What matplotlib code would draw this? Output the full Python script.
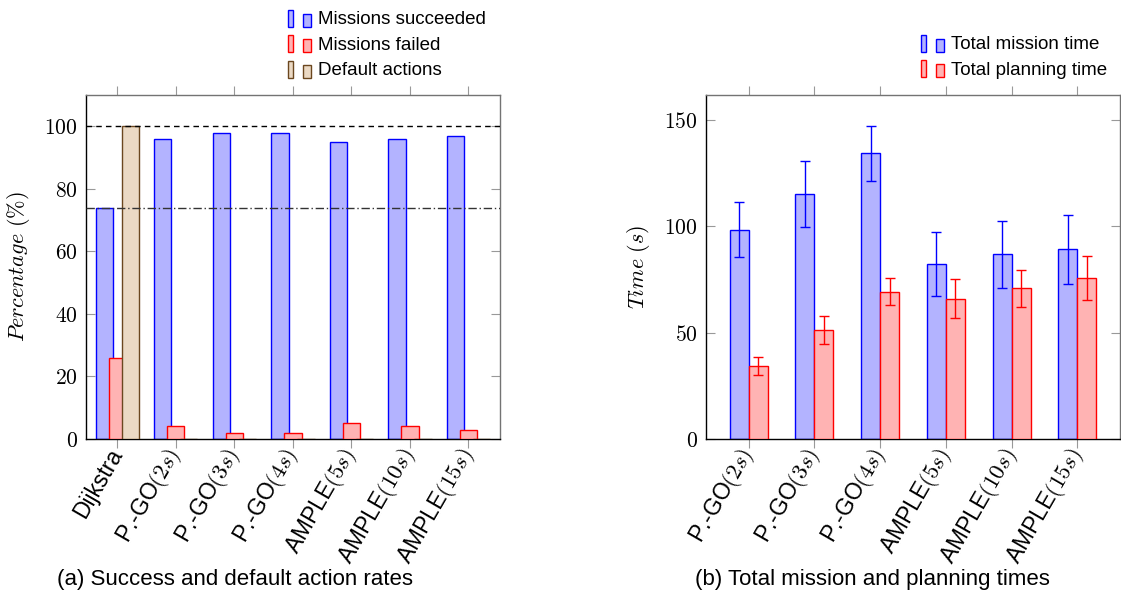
import matplotlib
matplotlib.use("Agg")
import matplotlib.pyplot as plt
import numpy as np
from matplotlib.legend_handler import HandlerBase
from matplotlib.patches import Rectangle
from matplotlib.container import BarContainer

plt.rcParams['font.family'] = ['Liberation Sans', 'DejaVu Sans']
plt.rcParams['mathtext.fontset'] = 'cm'

# (a) success / default action rates
methods_a = ['Dijkstra', 'P.-GO$(2s)$', 'P.-GO$(3s)$', 'P.-GO$(4s)$',
             'AMPLE$(5s)$', 'AMPLE$(10s)$', 'AMPLE$(15s)$']
succeeded = [74, 96, 98, 98, 95, 96, 97]
failed = [26, 4, 2, 2, 5, 4, 3]
default_actions = [100, 0, 0, 0, 0, 0, 0]

# (b) mission / planning times
methods_b = ['P.-GO$(2s)$', 'P.-GO$(3s)$', 'P.-GO$(4s)$',
             'AMPLE$(5s)$', 'AMPLE$(10s)$', 'AMPLE$(15s)$']
mission_time = [98.4, 115.2, 134.3, 82.1, 86.8, 89.2]
mission_err = [13.0, 15.6, 12.8, 15.0, 15.6, 16.2]
planning_time = [34.3, 51.2, 69.3, 66.0, 70.8, 75.8]
planning_err = [4.4, 6.6, 6.4, 9.0, 8.6, 10.4]

BLUE_FILL = (0.7, 0.7, 1.0)
RED_FILL = (1.0, 0.7, 0.7)
TAN_FILL = (0.92, 0.85, 0.77)
TAN_EDGE = (0.42, 0.28, 0.12)
TICK_GRAY = (0.6, 0.6, 0.6)


class TwoBarHandler(HandlerBase):
    # pgfplots-style ybar legend icon: two small bars
    def create_artists(self, legend, orig_handle, xdescent, ydescent,
                       width, height, fontsize, trans):
        p = orig_handle.patches[0]
        fc = p.get_facecolor()
        ec = p.get_edgecolor()
        h1 = height * 1.3
        h2 = height * 1.0
        y0 = -ydescent - height * 0.2
        r1 = Rectangle((-xdescent, y0), width * 0.22, h1, facecolor=fc,
                       edgecolor=ec, lw=1.0, transform=trans)
        r2 = Rectangle((-xdescent + width * 0.62, y0), width * 0.32, h2,
                       facecolor=fc, edgecolor=ec, lw=1.0, transform=trans)
        return [r1, r2]


def style_axes(ax):
    for s in ['top', 'right']:
        ax.spines[s].set_color((0.45, 0.45, 0.45))
    for s in ['left', 'bottom']:
        ax.spines[s].set_color('black')
    for s in ax.spines.values():
        s.set_linewidth(1.0)
    ax.tick_params(axis='y', direction='in', length=6.5, color=TICK_GRAY,
                   right=True, labelsize=15.5, pad=6)
    ax.tick_params(axis='x', direction='out', length=6.5, color=TICK_GRAY,
                   top=True, labelsize=16.5, pad=2)


fig = plt.figure(figsize=(11.21, 5.96), dpi=100)

# ---------- (a) ----------
ax1 = fig.add_axes([86 / 1121, 1 - 439 / 596, 414 / 1121, 344 / 596])
x = np.arange(len(methods_a))
w = 0.296
off = 0.222
b1 = ax1.bar(x - off, succeeded, w, color=BLUE_FILL, edgecolor='blue', lw=1.0,
             label='Missions succeeded', zorder=2)
b2 = ax1.bar(x, failed, w, color=RED_FILL, edgecolor='red', lw=1.0,
             label='Missions failed', zorder=3)
b3 = ax1.bar(x + off, default_actions, w, color=TAN_FILL, edgecolor=TAN_EDGE,
             lw=1.0, label='Default actions', zorder=4)
ax1.axhline(100, color='black', ls=(0, (4, 3)), lw=1.0, zorder=5)
ax1.axhline(succeeded[0], color=(0.2, 0.2, 0.2), ls=(0, (6, 2, 1, 2)), lw=1.0, zorder=5)
ax1.set_xlim(-0.535, 6.54)
ax1.set_ylim(0, 110)
ax1.set_yticks([0, 20, 40, 60, 80, 100])
ax1.set_yticklabels([f'${v}$' for v in [0, 20, 40, 60, 80, 100]])
ax1.set_xticks(x)
ax1.set_xticklabels(methods_a, rotation=60, ha='right', va='center',
                    rotation_mode='anchor')
style_axes(ax1)
ax1.set_ylabel(r'$Percentage\ \mathrm{(\%)}$', fontsize=16)
ax1.yaxis.set_label_coords(-0.13, 0.5)
fig.legend(handles=[b1, b2, b3], loc='upper left',
           bbox_to_anchor=(275 / 1121, 1 + 2 / 596), frameon=False,
           fontsize=13.5, handler_map={BarContainer: TwoBarHandler()},
           handlelength=1.3, handletextpad=0.3, labelspacing=0.45,
           borderpad=0.2)
fig.text(235 / 1121, 1 - 579 / 596, '(a) Success and default action rates',
         ha='center', va='center', fontsize=16)

# ---------- (b) ----------
ax2 = fig.add_axes([706 / 1121, 1 - 439 / 596, 414 / 1121, 344 / 596])
x2 = np.arange(len(methods_b))
w2 = 0.289
err_kw = dict(capsize=3.5, elinewidth=1.0, capthick=1.0)
c1 = ax2.bar(x2 - w2 / 2, mission_time, w2, color=BLUE_FILL, edgecolor='blue',
             lw=1.0, label='Total mission time', zorder=2)
ax2.errorbar(x2 - w2 / 2, mission_time, yerr=mission_err, fmt='none',
             ecolor='blue', zorder=4, **err_kw)
c2 = ax2.bar(x2 + w2 / 2, planning_time, w2, color=RED_FILL, edgecolor='red',
             lw=1.0, label='Total planning time', zorder=3)
ax2.errorbar(x2 + w2 / 2, planning_time, yerr=planning_err, fmt='none',
             ecolor='red', zorder=4, **err_kw)
ax2.set_xlim(-0.648, 5.65)
ax2.set_ylim(0, 161.7)
ax2.set_yticks([0, 50, 100, 150])
ax2.set_yticklabels([f'${v}$' for v in [0, 50, 100, 150]])
ax2.set_xticks(x2)
ax2.set_xticklabels(methods_b, rotation=60, ha='right', va='center',
                    rotation_mode='anchor')
style_axes(ax2)
ax2.set_ylabel(r'$Time\ (s)$', fontsize=16)
ax2.yaxis.set_label_coords(-0.13, 0.5)
fig.legend(handles=[c1, c2], loc='upper left',
           bbox_to_anchor=(908 / 1121, 1 - 23 / 596), frameon=False,
           fontsize=13.5, handler_map={BarContainer: TwoBarHandler()},
           handlelength=1.3, handletextpad=0.3, labelspacing=0.45,
           borderpad=0.2)
fig.text(872 / 1121, 1 - 580 / 596, '(b) Total mission and planning times',
         ha='center', va='center', fontsize=16)

fig.savefig('out.png', dpi=100)
